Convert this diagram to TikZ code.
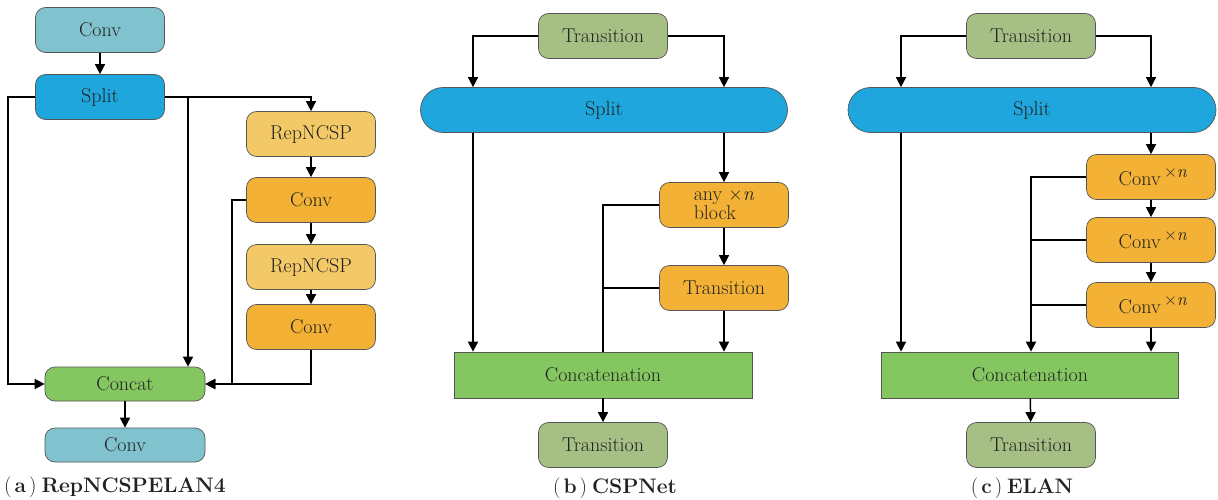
\documentclass[tikz,border=0pt]{standalone}
\usepackage{fontspec}
\usetikzlibrary{arrows.meta}
\definecolor{cteal}{HTML}{80C3CE}
\definecolor{cblue}{HTML}{1FA6DD}
\definecolor{clight}{HTML}{F3C967}
\definecolor{corange}{HTML}{F3B235}
\definecolor{cgreen}{HTML}{84C761}
\definecolor{csage}{HTML}{A6BF85}
\definecolor{cedge}{HTML}{555555}
\definecolor{ctext}{HTML}{222222}
\tikzset{
  box/.style={draw=cedge, line width=0.7pt, rounded corners=10pt, minimum width=129pt, minimum height=45pt, inner sep=0pt, text=ctext, font=\fontsize{20}{22}\selectfont},
  boxs/.style={box, minimum width=160pt, minimum height=34pt},
  pill/.style={box, rounded corners=22.5pt},
  rectbox/.style={box, rounded corners=0pt, minimum height=46pt},
  arr/.style={-{Triangle[length=10pt,width=10pt]}, line width=1.5pt},
  ln/.style={line width=1.5pt},
  captext/.style={font=\fontsize{21}{23}\selectfont\bfseries, inner sep=0pt, text=ctext}
}
\newcommand{\timesn}{\raisebox{8pt}{\fontsize{18}{18}\selectfont ×\textit{n}}}
\newcommand{\lp}{\textmd{(}\hspace{3pt}}
\newcommand{\rp}{\hspace{3pt}\textmd{)}\hspace{5pt}}
\begin{document}
\begin{tikzpicture}[x=1pt,y=-1pt]
\useasboundingbox (0,0) rectangle (1218,500);
% ---------- (a)
\node[box,fill=cteal] (a1) at (100,30) {Conv};
\node[box,fill=cblue] (a2) at (100,97) {Split};
\node[box,fill=clight] (a3) at (311,134) {RepNCSP};
\node[box,fill=corange] (a4) at (311,200) {Conv};
\node[box,fill=clight] (a5) at (311,267) {RepNCSP};
\node[box,fill=corange] (a6) at (311,327) {Conv};
\node[boxs,fill=cgreen] (a7) at (125,384) {Concat};
\node[boxs,fill=cteal] (a8) at (125,445) {Conv};
\coordinate (aL) at (8,0);
\coordinate (aM) at (188,97);
\coordinate (aR) at (232,0);
\draw[arr] (a1) -- (a2);
\draw[arr] (a2.west) -| (aL |- a7) -- (a7.west);
\draw[arr] (a2.east) -| (a3.north);
\draw[arr] (aM) -- (aM |- a7.north);
\draw[arr] (a3) -- (a4);
\draw[arr] (a4) -- (a5);
\draw[arr] (a5) -- (a6);
\draw[arr] (a4.west) -| (aR |- a7) -- (a7.east);
\draw[arr] (a6.south) |- (a7.east);
\draw[arr] (a7) -- (a8);
\node[captext,anchor=west] (capa) at (4,487) {\lp a\rp RepNCSPELAN4};
% ---------- (b)
\node[box,fill=csage] (b1) at (603,36) {Transition};
\node[pill,fill=cblue,minimum width=367pt] (b2) at (604,110) {Split};
\node[box,fill=corange,align=left] (b3) at (724,205) {any ×\textit{n}\\[-3pt]block};
\node[box,fill=corange] (b4) at (724,288) {Transition};
\node[rectbox,fill=cgreen,minimum width=298pt] (b5) at (603,375) {Concatenation};
\node[box,fill=csage] (b6) at (603,445) {Transition};
\coordinate (bL) at (473,0);
\coordinate (bM) at (603,0);
\draw[arr] (b1.west) -| (bL |- b2.north);
\draw[arr] (b1.east) -| (b3.north |- b2.north);
\draw[arr] (bL |- b2.south) -- (bL |- b5.north);
\draw[arr] (b3.north |- b2.south) -- (b3.north);
\draw[ln] (b3.west) -| (bM |- b5.north);
\draw[ln] (b4.west) -- (bM |- b4);
\draw[arr] (b3) -- (b4);
\draw[arr] (b4) -- (b4 |- b5.north);
\draw[arr] (b5) -- (b6);
\node[captext] (capb) at (615,488) {\lp b\rp CSPNet};
% ---------- (c)
\node[box,fill=csage] (c1) at (1031,36) {Transition};
\node[pill,fill=cblue,minimum width=368pt] (c2) at (1032,110) {Split};
\node[box,fill=corange] (c3) at (1151,177) {\hspace{4pt}Conv\,\timesn};
\node[box,fill=corange] (c4) at (1151,240) {\hspace{4pt}Conv\,\timesn};
\node[box,fill=corange] (c5) at (1151,305) {\hspace{4pt}Conv\,\timesn};
\node[rectbox,fill=cgreen,minimum width=297pt] (c6) at (1030,375) {Concatenation};
\node[box,fill=csage] (c7) at (1031,445) {Transition};
\coordinate (cL) at (901,0);
\coordinate (cM) at (1031,0);
\draw[arr] (c1.west) -| (cL |- c2.north);
\draw[arr] (c1.east) -| (c3.north |- c2.north);
\draw[arr] (cL |- c2.south) -- (cL |- c6.north);
\draw[arr] (c3.north |- c2.south) -- (c3.north);
\draw[arr] (c3) -- (c4);
\draw[arr] (c4) -- (c5);
\draw[arr] (c5) -- (c5 |- c6.north);
\draw[arr] (c3.west) -| (cM |- c6.north);
\draw[ln] (c4.west) -- (cM |- c4);
\draw[ln] (c5.west) -- (cM |- c5);
\draw[arr] (c6) -- (c7);
\node[captext] (capc) at (1022,488) {\lp c\rp ELAN};
\end{tikzpicture}
\end{document}
